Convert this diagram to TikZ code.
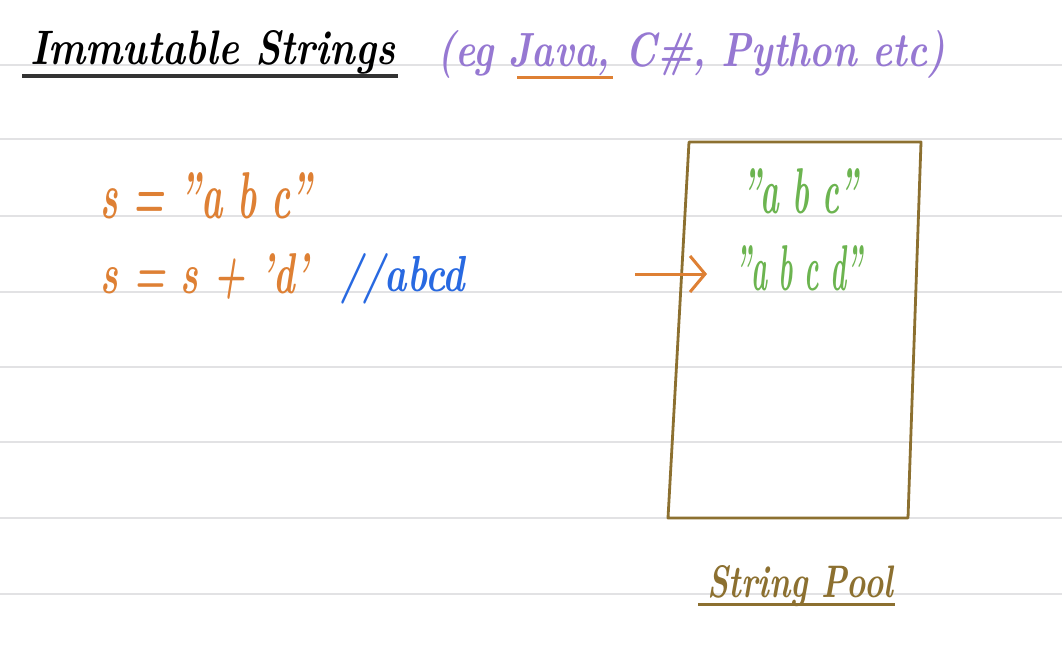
\documentclass[tikz,border=0pt]{standalone}
\usepackage{fontspec}
\usepackage{graphicx}
\usetikzlibrary{arrows.meta}
\definecolor{rule}{RGB}{226,226,228}
\definecolor{inkorange}{RGB}{222,128,52}
\definecolor{inkpurple}{RGB}{150,120,210}
\definecolor{inkblue}{RGB}{40,105,225}
\definecolor{inkgreen}{RGB}{108,180,80}
\definecolor{inkbrown}{RGB}{140,112,48}
\newcommand{\fitwh}[3]{\resizebox{#1pt}{#2pt}{\bfseries\itshape #3}}
\tikzset{
  ruled/.style={draw=rule, line width=1.6pt},
  txt/.style={anchor=base west, inner sep=0pt},
  ulineblack/.style={draw=black!80, line width=3.5pt},
  pool/.style={draw=inkbrown, line width=2.8pt, line join=round},
}
\begin{document}
\begin{tikzpicture}[x=1pt,y=-1pt]
\useasboundingbox (0,0) rectangle (1062,665);
\fill[white] (0,0) rectangle (1062,665);
% ruled paper
\foreach \yy in {65,139,216,292,367,442,518,594}
  \draw[ruled] (0,\yy) -- (1062,\yy);
% title
\node[txt, text=black] (title) at (30,64) {\fitwh{365}{34}{Immutable Strings}};
\coordinate (tuA) at (22,76);
\coordinate (tuB) at (398,76);
\draw[ulineblack] (tuA) -- (tuB);
\node[txt, text=inkpurple] (langs) at (437,66) {\fitwh{508}{36}{(eg Java, C\#, Python etc)}};
\coordinate (juA) at (517,77);
\coordinate (juB) at (613,77);
\draw[draw=inkorange, line width=3pt] (juA) -- (juB);
% code
\node[txt, text=inkorange] (l1) at (100,218) {\fitwh{212}{46}{s = "a b c"}};
\node[txt, text=inkorange] (l2) at (100,293) {\fitwh{208}{40}{s = s + 'd'}};
\node[txt, text=inkblue] (cmt) at (340,291) {\fitwh{125}{38}{//abcd}};
% pool
\coordinate (p1) at (689,142);
\coordinate (p2) at (921,142);
\coordinate (p3) at (908,518);
\coordinate (p4) at (668,518);
\draw[pool] (p1) -- (p2) -- (p3) -- (p4) -- cycle;
\node[txt, text=inkgreen] (s1) at (742,213) {\fitwh{116}{45}{"a b c"}};
\node[txt, text=inkgreen] (s2) at (735,290) {\fitwh{127}{45}{"a b c d"}};
\coordinate (arrS) at (635,274);
\draw[draw=inkorange, line width=3pt, shorten >=28pt, -{Straight Barb[length=15pt,width=36pt,line width=3pt]}] (arrS) -- (s2.west |- arrS);
% label
\node[txt, text=inkbrown] (lbl) at (707,597) {\fitwh{186}{32}{String Pool}};
\coordinate (luA) at (698,604);
\coordinate (luB) at (895,604);
\draw[draw=inkbrown, line width=3pt] (luA) -- (luB);
\end{tikzpicture}
\end{document}
